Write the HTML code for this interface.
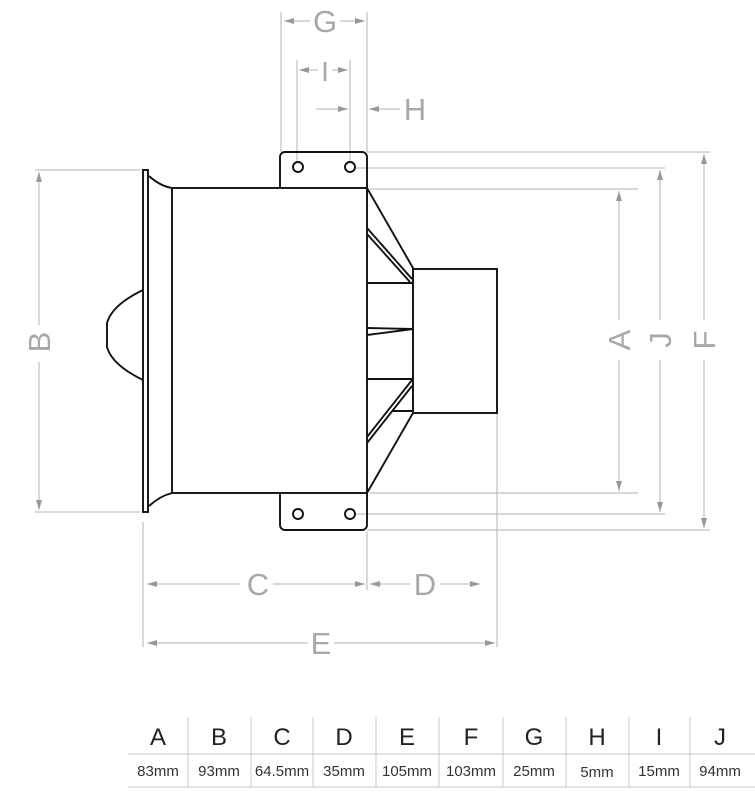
<!DOCTYPE html>
<html><head><meta charset="utf-8"><style>
html,body{margin:0;padding:0;background:#fff;width:755px;height:800px;overflow:hidden}
svg{display:block}
.d{stroke:#b3b3b3;stroke-width:1;fill:none}
.k{stroke:#111;stroke-width:1.9;fill:none}
.t{font-family:"Liberation Sans",sans-serif;fill:#a8a8a8;font-size:31px}
.h{font-family:"Liberation Sans",sans-serif;fill:#222;font-size:24px}
.v{font-family:"Liberation Sans",sans-serif;fill:#333;font-size:15px}
</style></head><body>
<svg width="755" height="800" viewBox="0 0 755 800">
<defs>
<marker id="a" viewBox="0 0 10 6" refX="10" refY="3" markerWidth="10" markerHeight="6" orient="auto-start-reverse"><path d="M0,0 L10,3 L0,6 z" fill="#999"/></marker>
</defs>
<g class="d">
<line x1="281" y1="12" x2="281" y2="152"/><line x1="367" y1="12" x2="367" y2="152"/>
<line x1="297" y1="60" x2="297" y2="162"/><line x1="350" y1="60" x2="350" y2="162"/>
<line x1="367" y1="152" x2="710" y2="152"/>
<line x1="355" y1="168" x2="665" y2="168"/>
<line x1="370" y1="189" x2="638" y2="189"/>
<line x1="370" y1="493" x2="638" y2="493"/>
<line x1="355" y1="514" x2="665" y2="514"/>
<line x1="367" y1="530" x2="710" y2="530"/>
<line x1="35" y1="170" x2="140" y2="170"/><line x1="35" y1="512" x2="140" y2="512"/>
<line x1="143" y1="522" x2="143" y2="647"/>
<line x1="367" y1="532" x2="367" y2="590"/>
<line x1="497" y1="413" x2="497" y2="647"/>
</g>
<g class="d">
<line x1="284" y1="21" x2="310" y2="21" marker-start="url(#a)"/><line x1="340" y1="21" x2="365" y2="21" marker-end="url(#a)"/>
<line x1="299" y1="70" x2="318" y2="70" marker-start="url(#a)"/><line x1="332" y1="70" x2="348" y2="70" marker-end="url(#a)"/>
<line x1="316" y1="109" x2="348" y2="109" marker-end="url(#a)"/>
<line x1="400" y1="109" x2="369" y2="109" marker-end="url(#a)"/>
<line x1="39" y1="325" x2="39" y2="172" marker-end="url(#a)"/><line x1="39" y1="362" x2="39" y2="510" marker-end="url(#a)"/>
<line x1="619" y1="320" x2="619" y2="191" marker-end="url(#a)"/><line x1="619" y1="360" x2="619" y2="491" marker-end="url(#a)"/>
<line x1="660" y1="320" x2="660" y2="170" marker-end="url(#a)"/><line x1="660" y1="360" x2="660" y2="512" marker-end="url(#a)"/>
<line x1="704" y1="320" x2="704" y2="154" marker-end="url(#a)"/><line x1="704" y1="360" x2="704" y2="528" marker-end="url(#a)"/>
<line x1="240" y1="584" x2="147" y2="584" marker-end="url(#a)"/><line x1="273" y1="584" x2="365" y2="584" marker-end="url(#a)"/>
<line x1="410" y1="584" x2="370" y2="584" marker-end="url(#a)"/><line x1="440" y1="584" x2="480" y2="584" marker-end="url(#a)"/>
<line x1="308" y1="643" x2="147" y2="643" marker-end="url(#a)"/><line x1="334" y1="643" x2="495" y2="643" marker-end="url(#a)"/>
</g>
<g class="t" text-anchor="middle">
<text x="325" y="32">G</text>
<text x="325" y="81" font-size="28">I</text>
<text x="415" y="120">H</text>
<text x="258" y="595">C</text>
<text x="425" y="595">D</text>
<text x="321" y="654">E</text>
<text transform="translate(50,342) rotate(-90)">B</text>
<text transform="translate(630,340) rotate(-90)">A</text>
<text transform="translate(671,340) rotate(-90)">J</text>
<text transform="translate(715,340) rotate(-90)">F</text>
</g>
<g class="k">
<rect x="280" y="152" width="87" height="50" rx="5"/>
<rect x="280" y="480" width="87" height="50" rx="5"/>
<rect x="172" y="188" width="195" height="305" fill="#fff"/>
<circle cx="298" cy="167" r="5"/><circle cx="350" cy="167" r="5"/>
<circle cx="298" cy="514" r="5"/><circle cx="350" cy="514" r="5"/>
<rect x="143" y="170" width="5" height="342" fill="#fff"/>
<path d="M149,176 Q160,186 172,188"/><path d="M149,506 Q160,496 172,493"/>
<path d="M143,290 Q112,305 107,323 L107,347 Q112,365 143,380"/>
<path d="M367,188 L413,268 L413,413 L367,493"/>
<rect x="413" y="269" width="84" height="144" fill="#fff"/>
<path d="M367,228 L412,279"/><path d="M367,234 L410,282"/>
<path d="M367,283 L413,283"/>
<path d="M367,328 L413,329 L367,335"/>
<path d="M367,379 L413,379"/>
<path d="M367,437 L412,380"/><path d="M367,443 L412,386"/>
<path d="M393,411 L413,411"/>
</g>
<g stroke="#c8c8c8" stroke-width="1">
<line x1="128" y1="754" x2="755" y2="754"/>
<line x1="128" y1="787" x2="755" y2="787"/>
<line x1="188" y1="717" x2="188" y2="787"/><line x1="251" y1="717" x2="251" y2="787"/>
<line x1="313" y1="717" x2="313" y2="787"/><line x1="376" y1="717" x2="376" y2="787"/>
<line x1="439" y1="717" x2="439" y2="787"/><line x1="503" y1="717" x2="503" y2="787"/>
<line x1="566" y1="717" x2="566" y2="787"/><line x1="629" y1="717" x2="629" y2="787"/>
<line x1="690" y1="717" x2="690" y2="787"/>
</g>
<g class="h" text-anchor="middle">
<text x="158" y="745">A</text><text x="219" y="745">B</text><text x="282" y="745">C</text>
<text x="344" y="745">D</text><text x="407" y="745">E</text><text x="471" y="745">F</text>
<text x="534" y="745">G</text><text x="597" y="745">H</text><text x="659" y="745">I</text>
<text x="720" y="745">J</text>
</g>
<g class="v" text-anchor="middle">
<text x="158" y="776">83mm</text><text x="219" y="776">93mm</text><text x="282" y="776">64.5mm</text>
<text x="344" y="776">35mm</text><text x="407" y="776">105mm</text><text x="471" y="776">103mm</text>
<text x="534" y="776">25mm</text><text x="597" y="777">5mm</text><text x="659" y="776">15mm</text>
<text x="720" y="776">94mm</text>
</g>
</svg>
</body></html>
